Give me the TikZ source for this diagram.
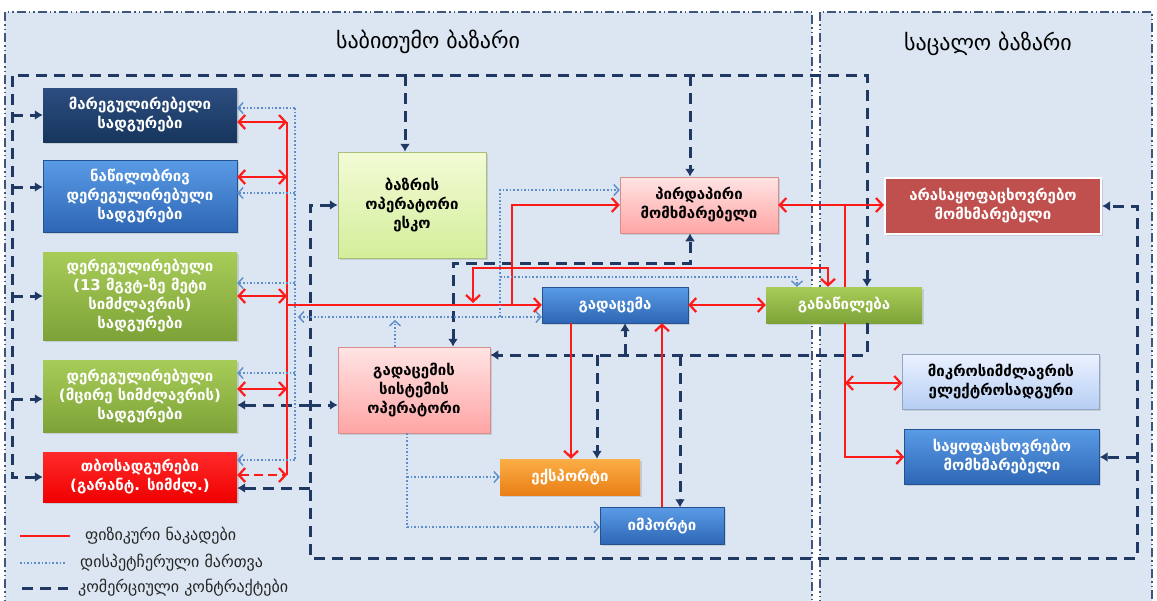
\documentclass[tikz,border=0pt]{standalone}
\usepackage{fontspec}
\setmainfont{DejaVu Sans}
\usetikzlibrary{arrows.meta,shadows}
\definecolor{bgc}{HTML}{DCE6F2}
\definecolor{navy}{HTML}{1F3864}
\definecolor{dblue}{HTML}{5B8CCB}
\definecolor{physred}{HTML}{FF1A1A}
\definecolor{navyT}{HTML}{2C4D80}
\definecolor{navyB}{HTML}{17365D}
\definecolor{blueT}{HTML}{5A9BE6}
\definecolor{blueB}{HTML}{2D66B4}
\definecolor{greenT}{HTML}{A8CC58}
\definecolor{greenB}{HTML}{7DA338}
\definecolor{redT}{HTML}{FF2A2A}
\definecolor{redB}{HTML}{F00000}
\definecolor{eskoT}{HTML}{F3FBD6}
\definecolor{eskoB}{HTML}{D3EE9A}
\definecolor{pinkT}{HTML}{FFE4E4}
\definecolor{pinkB}{HTML}{FFA5A5}
\definecolor{orT}{HTML}{FBAE45}
\definecolor{orB}{HTML}{E97F16}
\definecolor{brick}{HTML}{C0504D}
\definecolor{ltT}{HTML}{EAF1FF}
\definecolor{ltB}{HTML}{B6CEF4}
\begin{document}
\begin{tikzpicture}[x=1pt,y=-1pt,
  box/.style={align=center, inner sep=2pt, font=\bfseries\fontsize{15}{19}\selectfont,
    drop shadow={opacity=0.25,shadow xshift=1.5pt,shadow yshift=-1.5pt}},
  navybox/.style={box, top color=navyT, bottom color=navyB, text=white},
  bluebox/.style={box, top color=blueT, bottom color=blueB, text=white, draw=blueB!80!black, line width=0.4pt},
  greenbox/.style={box, top color=greenT, bottom color=greenB, text=white},
  redbox/.style={box, top color=redT, bottom color=redB, text=white},
  eskobox/.style={box, top color=eskoT, bottom color=eskoB, text=black, draw=eskoB!80!black, line width=0.5pt},
  pinkbox/.style={box, top color=pinkT, bottom color=pinkB, text=black, draw=pinkB!85!black, line width=0.5pt},
  orbox/.style={box, top color=orT, bottom color=orB, text=white},
  brickbox/.style={box, fill=brick, text=white, draw=white, line width=2pt},
  ltbox/.style={box, top color=ltT, bottom color=ltB, text=black, draw=ltB!80!black, line width=0.5pt},
  region/.style={draw=navy!85, line width=1.3pt, dash pattern=on 9pt off 3pt on 1.5pt off 3pt on 1.5pt off 3pt},
  title/.style={font=\fontsize{22}{26}\selectfont, text=black},
  legtext/.style={font=\fontsize{16}{19}\selectfont, text=black!85, anchor=west, inner sep=0pt},
  comm/.style={draw=navy, line width=3pt, dash pattern=on 11pt off 7pt, >={Latex[length=8pt,width=10pt]}},
  phys/.style={draw=physred, line width=2.2pt, >={Straight Barb[length=6.5pt,width=14pt]}},
  disp/.style={draw=dblue, line width=1.4pt, dash pattern=on 1.6pt off 2pt, >={Straight Barb[length=5pt,width=11pt]}}
]
\useasboundingbox (0,0) rectangle (1157,600);
\fill[white] (0,0) rectangle (1157,600);
\draw[region, fill=bgc] (5,12) rectangle (812,612);
\draw[region, fill=bgc] (820,12) rectangle (1152,612);

\node[title] (t1) at (428,42) {საბითუმო ბაზარი};
\node[title] (t2) at (988,44) {საცალო ბაზარი};

% boxes
\node[navybox, minimum width=194pt, minimum height=54pt] (b1) at (140,115) {მარეგულირებელი\\სადგურები};
\node[bluebox, minimum width=194pt, minimum height=72pt] (b2) at (140,196) {ნაწილობრივ\\დერეგულირებული\\სადგურები};
\node[greenbox, minimum width=194pt, minimum height=88pt] (b3) at (140,296) {დერეგულირებული\\(13 მგვტ-ზე მეტი\\სიმძლავრის)\\სადგურები};
\node[greenbox, minimum width=194pt, minimum height=72pt] (b4) at (140,396) {დერეგულირებული\\(მცირე სიმძლავრის)\\სადგურები};
\node[redbox, minimum width=194pt, minimum height=50pt] (b5) at (140,477) {თბოსადგურები\\(გარანტ. სიმძლ.)};
\node[eskobox, minimum width=148pt, minimum height=106pt] (esko) at (412,205) {ბაზრის\\ოპერატორი\\ესკო};
\node[pinkbox, minimum width=158pt, minimum height=56pt] (direct) at (699,205) {პირდაპირი\\მომხმარებელი};
\node[pinkbox, minimum width=152pt, minimum height=86pt] (tso) at (414,390) {გადაცემის\\სისტემის\\ოპერატორი};
\node[bluebox, minimum width=146pt, minimum height=36pt] (trans) at (615,305) {გადაცემა};
\node[greenbox, minimum width=156pt, minimum height=36pt] (dist) at (844,305) {განაწილება};
\node[orbox, minimum width=140pt, minimum height=36pt] (export) at (570,477) {ექსპორტი};
\node[bluebox, minimum width=124pt, minimum height=37pt] (import) at (662,526) {იმპორტი};
\node[brickbox, minimum width=216pt, minimum height=56pt] (nonhh) at (993,206) {არასაყოფაცხოვრებო\\მომხმარებელი};
\node[ltbox, minimum width=197pt, minimum height=55pt] (micro) at (1001,382) {მიკროსიმძლავრის\\ელექტროსადგური};
\node[bluebox, minimum width=195pt, minimum height=55pt] (hh) at (1002,457) {საყოფაცხოვრებო\\მომხმარებელი};

% commercial contracts
\draw[comm,<->] (b5.west) -| (12,75) -| (dist.north -| 867,0);
\foreach \n/\yy in {b1/115,b2/187,b3/296,b4/399} \draw[comm,->] (12,\yy) -- (\n.west |- 0,\yy);
\draw[comm,->] (405,75) -- (esko.north -| 405,0);
\draw[comm,->] (690,75) -- (direct.north -| 690,0);
\draw[comm,<->] (esko.west) -| (310,558) -| (1137,206) -- (nonhh.east |- 0,206);
\draw[comm,->] (310,405) -- (tso.west |- 0,405);
\draw[comm,->] (310,405) -- (b4.east |- 0,405);
\draw[comm,->] (310,488) -- (b5.east |- 0,488);
\draw[comm,->] (1137,457) -- (hh.east |- 0,457);
\draw[comm,<->] (tso.north -| 453,0) |- (690,263) -- (direct.south -| 690,0);
\draw[comm,->] (dist.south -| 867,0) |- (tso.east |- 0,355);
\draw[comm,->] (597,355) -- (export.north -| 597,0);
\draw[comm,->] (625,355) -- (trans.south -| 625,0);
\draw[comm,->] (680,355) -- (import.north -| 680,0);

% physical flows
\draw[phys] (287,122) -- (287,475);
\foreach \n/\yy in {b1/122,b2/177,b3/296,b4/389} \draw[phys,<->] (\n.east |- 0,\yy) -- (287,\yy);
\draw[phys,<->,dash pattern=on 9pt off 5pt] (b5.east |- 0,475) -- (287,475);
\draw[phys,->] (287,305) -- (trans.west |- 0,305);
\draw[phys,->] (512,305) |- (direct.west |- 0,205);
\draw[phys,<->] (direct.east |- 0,205) -- (nonhh.west |- 0,205);
\draw[phys] (dist.north -| 845,0) -- (845,205);
\draw[phys,<->] (473,303) |- (828,268) -- (dist.north -| 828,0);
\draw[phys,<->] (trans.east) -- (dist.west);
\draw[phys,->] (trans.south -| 571,0) -- (export.north -| 571,0);
\draw[phys,->] (import.north -| 662,0) -- (trans.south -| 662,0);
\draw[phys,->] (dist.south -| 845,0) |- (hh.west |- 0,457);
\draw[phys,<->] (845,383) -- (micro.west |- 0,383);

% dispatch
\draw[disp] (295,108) -- (295,460);
\foreach \n/\yy in {b1/108,b2/193,b3/283,b4/373,b5/460} \draw[disp,->] (295,\yy) -- (\n.east |- 0,\yy);
\draw[disp,<->] (298,317) -- (trans.west |- 0,317);
\draw[disp,->] (tso.north -| 395,0) -- (395,320);
\draw[disp,->] (500,317) |- (direct.west |- 0,190);
\draw[disp,->] (500,277) -| (dist.north -| 797,0);
\draw[disp] (tso.south -| 407,0) -- (407,527);
\draw[disp,->] (407,477) -- (export.west |- 0,477);
\draw[disp,->] (407,527) -- (import.west |- 0,527);

% legend
\coordinate (l1a) at (20,536); \coordinate (l1b) at (70,536);
\coordinate (l2a) at (20,563); \coordinate (l2b) at (66,563);
\coordinate (l3a) at (22,588); \coordinate (l3b) at (68,588);
\draw[phys] (l1a) -- (l1b);
\draw[disp] (l2a) -- (l2b);
\draw[comm] (l3a) -- (l3b);
\node[legtext] (lg1) at (85,536) {ფიზიკური ნაკადები};
\node[legtext] (lg2) at (80,563) {დისპეტჩერული მართვა};
\node[legtext] (lg3) at (78,588) {კომერციული კონტრაქტები};
\end{tikzpicture}
\end{document}
